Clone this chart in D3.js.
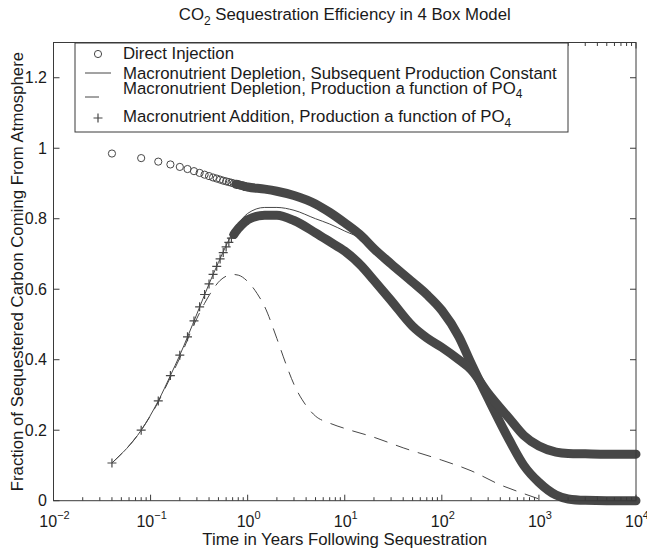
<!DOCTYPE html>
<html>
<head>
<meta charset="utf-8">
<script src="https://cdn.jsdelivr.net/npm/d3@7"></script>
<style>
  html, body { margin: 0; padding: 0; background: #fff; }
  svg { display: block; font-family: "Liberation Sans", Arial, Helvetica, sans-serif; }
</style>
</head>
<body>
<svg id="chart" width="647" height="550"></svg>
<script>
// Sample times (years) for the closely spaced early output, one every 0.04 yr
const earlyTimes = [0.04, 0.08, 0.12, 0.16, 0.20, 0.24, 0.28, 0.32, 0.36, 0.40, 0.44, 0.48, 0.52,
  0.56, 0.60, 0.64, 0.68, 0.72, 0.76, 0.80, 0.84, 0.88, 0.92, 0.96, 1.00];
const directEarly = [0.985, 0.972, 0.962, 0.954, 0.947, 0.941, 0.935, 0.930, 0.925, 0.921, 0.917, 0.914, 0.911,
  0.908, 0.906, 0.904, 0.902, 0.900, 0.898, 0.897, 0.895, 0.894, 0.892, 0.891, 0.890];
const additionEarly = [0.107, 0.200, 0.283, 0.355, 0.413, 0.465, 0.510, 0.550, 0.585, 0.615, 0.642, 0.665, 0.686,
  0.704, 0.720, 0.733, 0.745, 0.755, 0.764, 0.772, 0.778, 0.784, 0.789, 0.793, 0.797];

// Later output, where the markers run together into a solid band
const bandTimes = [1.5, 2, 3, 5, 7, 10, 15, 20, 30, 50, 70, 100, 150, 200, 300, 500, 700, 1000, 1500, 2000, 3000, 5000, 10000];
const directBand = [0.884, 0.878, 0.866, 0.842, 0.818, 0.788, 0.750, 0.715, 0.672, 0.620, 0.585, 0.540, 0.465, 0.390,
  0.290, 0.170, 0.100, 0.052, 0.016, 0.005, 0.001, 0, 0];
const additionBand = [0.810, 0.810, 0.795, 0.760, 0.735, 0.708, 0.665, 0.625, 0.568, 0.495, 0.462, 0.435, 0.400, 0.372,
  0.305, 0.232, 0.185, 0.155, 0.138, 0.134, 0.133, 0.132, 0.132];

// Macronutrient depletion, subsequent production constant (solid line)
const constTimes = [0.04, 0.08, 0.12, 0.16, 0.2, 0.3, 0.4, 0.5, 0.6, 0.7, 0.8, 1.0, 1.5, 2, 3, 5, 7, 10, 15, 20, 30, 50,
  70, 100, 150, 200, 300, 500, 700, 1000, 1500, 2000, 3000, 5000, 10000];
const constValues = [0.107, 0.200, 0.283, 0.355, 0.413, 0.530, 0.615, 0.676, 0.724, 0.760, 0.785, 0.815, 0.832, 0.832,
  0.824, 0.800, 0.785, 0.765, 0.742, 0.713, 0.670, 0.620, 0.585, 0.540, 0.465, 0.390, 0.290, 0.170, 0.100, 0.052,
  0.016, 0.005, 0.001, 0, 0];

// Macronutrient depletion, production a function of PO4 (dashed line)
const po4Times = [0.04, 0.08, 0.12, 0.16, 0.2, 0.28, 0.36, 0.44, 0.52, 0.6, 0.7, 0.8, 1.0, 1.25, 1.5, 2, 2.5, 3, 4, 5,
  7, 10, 20, 40, 100, 200, 400, 700, 1000];
const po4Values = [0.107, 0.200, 0.280, 0.350, 0.405, 0.500, 0.560, 0.600, 0.625, 0.637, 0.642, 0.640, 0.622, 0.588,
  0.550, 0.460, 0.385, 0.330, 0.270, 0.240, 0.220, 0.205, 0.180, 0.150, 0.115, 0.085, 0.045, 0.020, 0.005];

// Axis ticks
const xTickExponents = [-2, -1, 0, 1, 2, 3, 4];
const yTicks = [0, 0.2, 0.4, 0.6, 0.8, 1, 1.2];
const yTickLabels = ["0", "0.2", "0.4", "0.6", "0.8", "1", "1.2"];

const legendLabels = [
  { text: "Direct Injection", sub: null },
  { text: "Macronutrient Depletion, Subsequent Production Constant", sub: null },
  { text: "Macronutrient Depletion, Production a function of PO", sub: "4" },
  { text: "Macronutrient Addition, Production a function of PO", sub: "4" }
];

(function draw() {
  const ink = "#474747";
  const axisInk = "#3a3a3a";
  const textInk = "#1a1a1a";
  const labelSize = 16.8;

  const svg = d3.select("#chart");
  const padL = 53.5, padR = 636, padT = 42.5, padB = 500.7;

  const x = d3.scaleLog().domain([1e-2, 1e4]).range([padL, padR]);
  const y = d3.scaleLinear().domain([0, 1.3]).range([padB, padT]);

  const zip = (ts, vs) => ts.map((t, i) => [t, vs[i]]);
  const line = d3.line().x(d => x(d[0])).y(d => y(d[1])).curve(d3.curveMonotoneX);

  const plot = svg.append("g");

  // Direct injection: band for the dense part, open circles for the sparse part
  const directAll = zip(earlyTimes, directEarly).concat(zip(bandTimes, directBand));
  plot.append("path")
    .attr("d", line(directAll.filter(d => d[0] >= 0.76)))
    .attr("fill", "none").attr("stroke", ink).attr("stroke-width", 9)
    .attr("stroke-linecap", "round").attr("stroke-linejoin", "round");
  plot.append("g").selectAll("circle")
    .data(zip(earlyTimes, directEarly))
    .join("circle")
    .attr("cx", d => x(d[0])).attr("cy", d => y(d[1])).attr("r", 3.6)
    .attr("fill", "none").attr("stroke", ink).attr("stroke-width", 1);

  // Solid and dashed model lines
  plot.append("path")
    .attr("d", line(zip(constTimes, constValues)))
    .attr("fill", "none").attr("stroke", ink).attr("stroke-width", 1);
  plot.append("path")
    .attr("d", line(zip(po4Times, po4Values)))
    .attr("fill", "none").attr("stroke", ink).attr("stroke-width", 1)
    .attr("stroke-dasharray", "14,9");

  // Macronutrient addition: band plus '+' markers
  const additionAll = zip(earlyTimes, additionEarly).concat(zip(bandTimes, additionBand));
  plot.append("path")
    .attr("d", line(additionAll.filter(d => d[0] >= 0.72)))
    .attr("fill", "none").attr("stroke", ink).attr("stroke-width", 9)
    .attr("stroke-linecap", "round").attr("stroke-linejoin", "round");
  plot.append("g").selectAll("path")
    .data(zip(earlyTimes, additionEarly))
    .join("path")
    .attr("transform", d => `translate(${x(d[0])},${y(d[1])})`)
    .attr("d", "M-4.5,0H4.5M0,-4.5V4.5")
    .attr("fill", "none").attr("stroke", ink).attr("stroke-width", 1.2);

  // Axes box
  svg.append("rect")
    .attr("x", padL).attr("y", padT).attr("width", padR - padL).attr("height", padB - padT)
    .attr("fill", "none").attr("stroke", axisInk).attr("stroke-width", 1);

  // X ticks (inward, bottom and top), log minor ticks
  const majorLen = 6, minorLen = 3.5;
  const tk = svg.append("g").attr("stroke", axisInk).attr("stroke-width", 1);
  x.ticks().forEach(t => {
    const isMajor = Math.abs(Math.log10(t) - Math.round(Math.log10(t))) < 1e-9;
    const len = isMajor ? majorLen : minorLen;
    const px = x(t);
    tk.append("line").attr("x1", px).attr("x2", px).attr("y1", padB).attr("y2", padB - len);
    tk.append("line").attr("x1", px).attr("x2", px).attr("y1", padT).attr("y2", padT + len);
  });
  // Y ticks (inward, left and right)
  yTicks.forEach(v => {
    tk.append("line").attr("x1", padL).attr("x2", padL + majorLen).attr("y1", y(v)).attr("y2", y(v));
    tk.append("line").attr("x1", padR).attr("x2", padR - majorLen).attr("y1", y(v)).attr("y2", y(v));
  });

  // Tick labels
  const tl = svg.append("g").attr("fill", textInk).attr("font-size", 16);
  xTickExponents.forEach(e => {
    const t = tl.append("text").attr("x", x(Math.pow(10, e)) + 1).attr("y", 526.5).attr("text-anchor", "middle");
    t.append("tspan").text("10");
    t.append("tspan").attr("dy", -8).attr("font-size", 11).text(e < 0 ? "\u2212" + Math.abs(e) : String(e));
  });
  yTicks.forEach((v, i) => {
    tl.append("text").attr("x", 47).attr("y", y(v) + 5.5).attr("text-anchor", "end").text(yTickLabels[i]);
  });

  // Axis titles
  svg.append("text")
    .attr("x", (padL + padR) / 2).attr("y", 545).attr("text-anchor", "middle")
    .attr("font-size", labelSize).attr("fill", textInk)
    .text("Time in Years Following Sequestration");
  svg.append("text")
    .attr("transform", `translate(23,${(padT + padB) / 2}) rotate(-90)`)
    .attr("text-anchor", "middle").attr("font-size", labelSize).attr("fill", textInk)
    .text("Fraction of Sequestered Carbon Coming From Atmosphere");

  // Title
  const title = svg.append("text")
    .attr("x", (padL + padR) / 2).attr("y", 20).attr("text-anchor", "middle")
    .attr("font-size", labelSize).attr("fill", textInk);
  title.append("tspan").text("CO");
  title.append("tspan").attr("dy", 5).attr("font-size", 12).text("2");
  title.append("tspan").attr("dy", -5).text(" Sequestration Efficiency in 4 Box Model");

  // Legend
  const lg = svg.append("g");
  lg.append("rect").attr("x", 75).attr("y", 43).attr("width", 493).attr("height", 89)
    .attr("fill", "#fff").attr("stroke", axisInk).attr("stroke-width", 1);
  const baselines = [59, 78.5, 93.5, 122];
  legendLabels.forEach((d, i) => {
    const t = lg.append("text").attr("x", 123).attr("y", baselines[i])
      .attr("font-size", labelSize).attr("fill", textInk);
    t.append("tspan").text(d.text);
    if (d.sub) t.append("tspan").attr("dy", 4.5).attr("font-size", 12).text(d.sub);
  });
  lg.append("circle").attr("cx", 98).attr("cy", 54).attr("r", 3.6)
    .attr("fill", "none").attr("stroke", ink).attr("stroke-width", 1);
  lg.append("line").attr("x1", 85).attr("x2", 111).attr("y1", 73).attr("y2", 73)
    .attr("stroke", ink).attr("stroke-width", 1);
  lg.append("line").attr("x1", 85).attr("x2", 110).attr("y1", 97).attr("y2", 97)
    .attr("stroke", ink).attr("stroke-width", 1).attr("stroke-dasharray", "14,12");
  lg.append("path").attr("transform", "translate(98,118)").attr("d", "M-4.5,0H4.5M0,-4.5V4.5")
    .attr("fill", "none").attr("stroke", ink).attr("stroke-width", 1.2);
})();
</script>
</body>
</html>
